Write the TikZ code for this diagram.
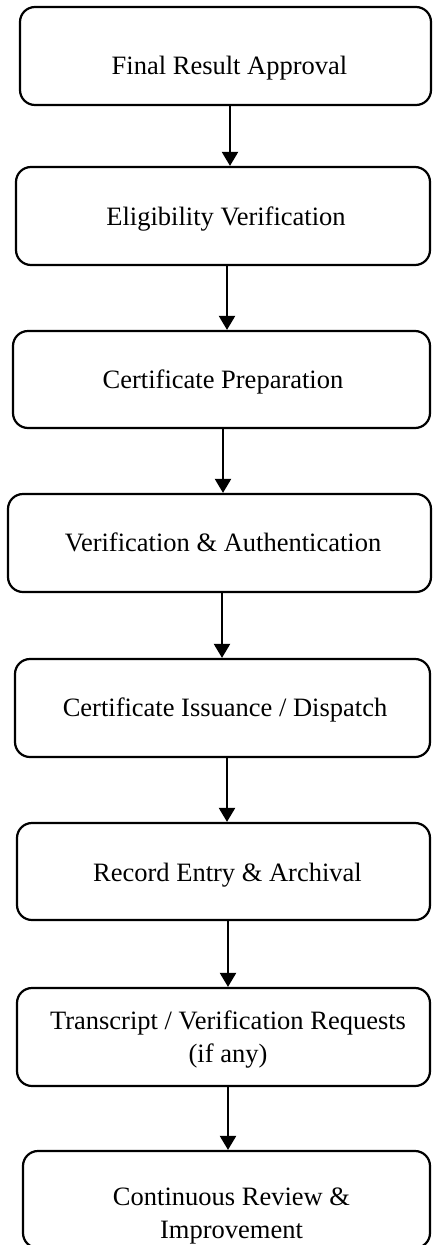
\documentclass[tikz,border=0pt]{standalone}
\usepackage{fontspec}
\setmainfont{Liberation Serif}
\usetikzlibrary{arrows.meta}
\begin{document}
\begin{tikzpicture}[x=1pt,y=-1pt,
  box/.style={draw=black, line width=2.2pt, rounded corners=15pt, inner sep=0pt, fill=white},
  lbl/.style={anchor=base, inner sep=0pt, font=\fontsize{26.5}{33}\selectfont},
  arr/.style={draw=black, line width=2.2pt, -{Triangle[width=16pt,length=14pt]}}]
\useasboundingbox (0,0) rectangle (432,1245);
\clip (0,0) rectangle (432,1245);
\fill[white] (0,0) rectangle (432,1245);
\node[box, minimum width=411pt, minimum height=98pt] (b1) at (225.5,56) {};
\node[box, minimum width=414pt, minimum height=98pt] (b2) at (223,216) {};
\node[box, minimum width=417pt, minimum height=97pt] (b3) at (221.5,379.5) {};
\node[box, minimum width=423pt, minimum height=98pt] (b4) at (219.5,543) {};
\node[box, minimum width=415pt, minimum height=98pt] (b5) at (222.5,708) {};
\node[box, minimum width=413pt, minimum height=97pt] (b6) at (223.5,871.5) {};
\node[box, minimum width=413pt, minimum height=98pt] (b7) at (223.5,1037) {};
\node[box, minimum width=407pt, minimum height=97pt] (b8) at (226.5,1199.5) {};
\node[lbl] (t1) at (229.5,74) {Final Result Approval};
\node[lbl] (t2) at (226,225) {Eligibility Verification};
\node[lbl] (t3) at (223,388) {Certificate Preparation};
\node[lbl] (t4) at (223,551) {Verification \& Authentication};
\node[lbl] (t5) at (225,716) {Certificate Issuance / Dispatch};
\node[lbl] (t6) at (227.5,881) {Record Entry \& Archival};
\node[lbl] (t7) at (228,1029) {\begin{tabular}[t]{@{}c@{}}Transcript / Verification Requests\\(if any)\end{tabular}};
\node[lbl] (t8) at (231.5,1205) {\begin{tabular}[t]{@{}c@{}}Continuous Review \&\\Improvement\end{tabular}};
\draw[arr] (b1.south -| 230,0) -- (b2.north -| 230,0);
\draw[arr] (b2.south -| 227,0) -- (b3.north -| 227,0);
\draw[arr] (b3.south -| 223,0) -- (b4.north -| 223,0);
\draw[arr] (b4.south -| 222,0) -- (b5.north -| 222,0);
\draw[arr] (b5.south -| 227,0) -- (b6.north -| 227,0);
\draw[arr] (b6.south -| 228,0) -- (b7.north -| 228,0);
\draw[arr] (b7.south -| 228,0) -- (b8.north -| 228,0);
\end{tikzpicture}
\end{document}
